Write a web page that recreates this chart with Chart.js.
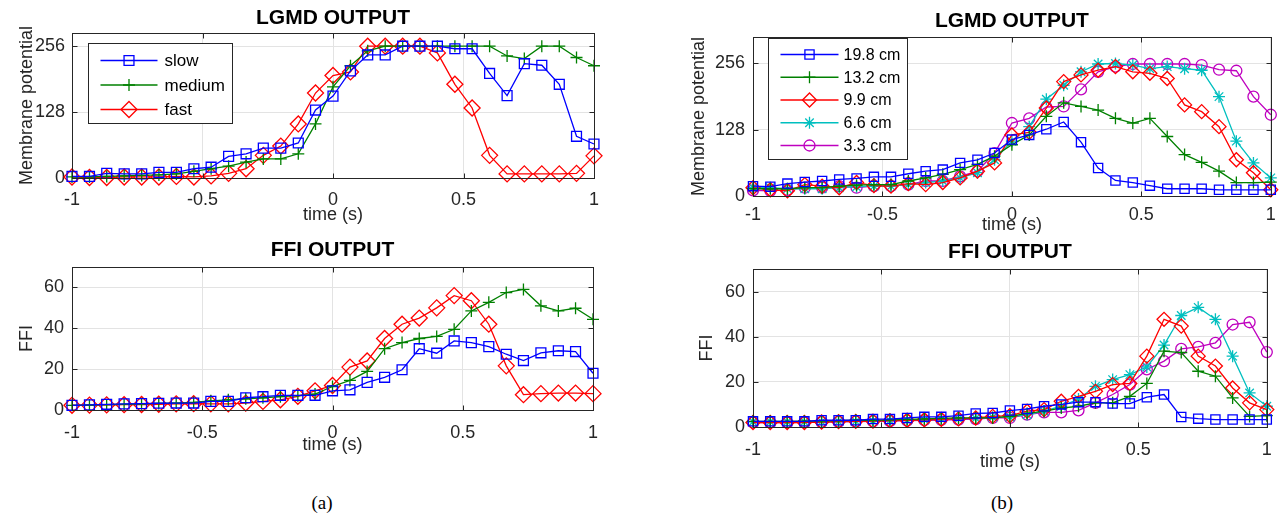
<!DOCTYPE html>
<html><head><meta charset="utf-8">
<script src="https://cdn.jsdelivr.net/npm/chart.js@4.4.1/dist/chart.umd.min.js"></script>
<style>
html,body{margin:0;padding:0;background:#fff;}
body{width:1284px;height:514px;position:relative;overflow:hidden;}
canvas{position:absolute;}
.cap{position:absolute;font-family:'Liberation Serif','Times New Roman',serif;font-size:19px;color:#000;transform:translate(-50%,-50%);white-space:nowrap;}
</style></head><body>
<canvas id="a1" width="640" height="230" style="left:0;top:0"></canvas>
<canvas id="a2" width="640" height="240" style="left:0;top:230px"></canvas>
<canvas id="b1" width="624" height="240" style="left:660px;top:0"></canvas>
<canvas id="b2" width="624" height="250" style="left:660px;top:230px"></canvas>
<div class="cap" style="left:322px;top:503px">(a)</div>
<div class="cap" style="left:1002px;top:503px">(b)</div>
<script>
// ---- data ----
const times = [-1, -0.933, -0.867, -0.8, -0.733, -0.667, -0.6, -0.533, -0.467, -0.4, -0.333, -0.267, -0.2, -0.133, -0.067, 0, 0.067, 0.133, 0.2, 0.267, 0.333, 0.4, 0.467, 0.533, 0.6, 0.667, 0.733, 0.8, 0.867, 0.933, 1];
const timeTicks = [-1, -0.5, 0, 0.5, 1];
const lgmdTicks = [0, 128, 256];
const ffiTicks = [0, 20, 40, 60];
const speedLabels = ['slow', 'medium', 'fast'];
const sizeLabels = ['19.8 cm', '13.2 cm', '9.9 cm', '6.6 cm', '3.3 cm'];

// (a) LGMD
const slowLGMD = [3, 3, 9, 8, 8, 11, 11, 18, 21, 42, 47, 58, 58, 68, 132, 159, 208, 239, 239, 256, 256, 256, 251, 251, 203, 160, 222, 219, 182, 81, 66];
const mediumLGMD = [2, 2, 3, 4, 5, 6, 8, 13, 18, 23, 31, 37, 37, 47, 105, 177, 218, 247, 256, 256, 256, 256, 256, 256, 256, 237, 232, 256, 256, 234, 218];
const fastLGMD = [2, 1, 1, 2, 2, 2, 3, 2, 4, 9, 18, 44, 62, 105, 165, 199, 206, 256, 256, 256, 256, 243, 182, 136, 44, 8, 8, 8, 8, 9, 43];
// (a) FFI
const slowFFI = [2.3, 2.5, 2.8, 3, 3.1, 3.3, 3.4, 3.4, 4.2, 4.2, 6, 6.5, 7.2, 7.2, 7.2, 9.4, 9.9, 13.5, 16, 19.7, 30, 27.8, 33.8, 33, 31, 27.3, 24.2, 28, 29, 28.6, 18];
const mediumFFI = [2.3, 2.4, 2.6, 2.8, 3, 3.2, 3.4, 3.7, 4.5, 5, 5.5, 6, 6.5, 7, 7.8, 11.5, 14.5, 18.9, 30, 33, 35, 36, 39.5, 48.5, 52.7, 57.5, 59, 51, 48.5, 49.8, 44.4];
const fastFFI = [2.3, 2.4, 2.5, 2.6, 2.7, 2.8, 3, 3.1, 3, 3, 3.4, 4.2, 5, 6.7, 9.4, 12, 21, 24, 35, 42, 45, 50, 56, 53.5, 42, 21.6, 7.5, 8, 8.3, 8.3, 8];
// (b) LGMD
const lgmd198 = [19, 18, 24, 27, 29, 32, 34, 37, 37, 43, 48, 51, 64, 70, 83, 109, 118, 129, 143, 104, 54, 30, 26, 20, 14, 14, 14, 12, 12, 12, 12];
const lgmd132 = [14, 14, 14, 16, 16, 19, 21, 22, 22, 29, 35, 42, 51, 61, 77, 99, 118, 154, 180, 173, 166, 150, 141, 150, 115, 80, 65, 48, 26, 26, 27];
const lgmd99 = [16, 12, 10, 22, 19, 16, 26, 20, 19, 24, 22, 26, 35, 48, 64, 118, 123, 170, 221, 234, 243, 250, 240, 237, 227, 176, 163, 134, 70, 45, 12];
const lgmd66 = [16, 16, 14, 14, 14, 16, 18, 19, 19, 22, 26, 29, 35, 45, 70, 106, 134, 187, 214, 240, 255, 256, 253, 246, 250, 246, 243, 192, 106, 64, 35];
const lgmd33 = [11, 10, 12, 16, 16, 19, 16, 19, 19, 22, 29, 29, 38, 48, 83, 141, 150, 172, 173, 206, 240, 250, 255, 255, 255, 255, 253, 244, 242, 192, 157];
// (b) FFI
const ffi198 = [2.5, 2.5, 2.5, 2.5, 3, 3, 3, 3.5, 3.5, 4, 4.5, 4.5, 5, 6, 6.2, 7.3, 8, 9.2, 10, 11, 11, 10.4, 10.4, 13.2, 14.4, 4.4, 3.7, 3.3, 3.3, 3.3, 3.3];
const ffi132 = [2.5, 2.5, 2.5, 2.6, 2.7, 2.8, 3, 3, 3.2, 3.4, 3.6, 3.8, 4, 4, 4, 4.7, 6, 7, 8.4, 9.2, 10.7, 10.7, 13.6, 19.3, 33.6, 33, 24.7, 22.5, 12.9, 4.7, 5];
const ffi99 = [2, 2, 2, 2, 2.2, 2.4, 2.5, 2.6, 2.8, 3, 3.2, 3.4, 3.6, 4, 4.7, 5, 7, 7.7, 11.4, 13.6, 15.8, 18.8, 19.3, 31.4, 47.7, 44.7, 31.4, 27, 17.3, 10.7, 7.7];
const ffi66 = [2.3, 2.3, 2.3, 2.3, 2.4, 2.5, 2.6, 2.7, 2.9, 3, 3.2, 3.4, 3.6, 3.9, 4.3, 4.4, 5.5, 7, 9.2, 12.4, 18, 21, 23.2, 26.6, 36.3, 49.4, 53, 47.7, 31.4, 15.1, 9.2];
const ffi33 = [2, 2, 2, 2.1, 2.2, 2.3, 2.4, 2.5, 2.6, 2.8, 3, 3.1, 3.3, 3.5, 4, 4, 5.5, 6.5, 6.5, 7.4, 10.7, 14.4, 18.8, 25.5, 29.2, 34.6, 35.5, 37.3, 45.4, 46.4, 33.2];

// ---- styles ----
const FONT = "'Liberation Sans', Arial, sans-serif";
const BLUE = '#0000FF', GREEN = '#008000', RED = '#FF0000', CYAN = '#00BFBF', MAG = '#BF00BF';

function pts(vals) { return times.map((t, i) => ({x: t, y: vals[i]})); }
function ds(label, vals, color, style, r) {
  return {label, data: pts(vals), borderColor: color, backgroundColor: 'rgba(0,0,0,0)',
    borderWidth: 1.3, pointStyle: style, pointRadius: r, pointHoverRadius: r,
    pointBorderWidth: 1.3, pointBackgroundColor: 'rgba(0,0,0,0)', pointBorderColor: color,
    tension: 0, clip: false, showLine: true};
}

const framePlugin = {
  id: 'frame',
  afterDatasetsDraw(chart) {
    const {ctx, chartArea: a, scales: {x, y}} = chart;
    ctx.save();
    ctx.strokeStyle = '#262626'; ctx.lineWidth = 1;
    const L = Math.round(a.left) + 0.5, R = Math.round(a.right) + 0.5, T = Math.round(a.top) + 0.5, B = Math.round(a.bottom) + 0.5;
    ctx.strokeRect(L, T, R - L, B - T);
    const tl = 5;
    ctx.beginPath();
    x.ticks.forEach(t => { const p = Math.round(x.getPixelForValue(t.value)) + 0.5; ctx.moveTo(p, B); ctx.lineTo(p, B - tl); ctx.moveTo(p, T); ctx.lineTo(p, T + tl); });
    y.ticks.forEach(t => { const p = Math.round(y.getPixelForValue(t.value)) + 0.5; ctx.moveTo(L, p); ctx.lineTo(L + tl, p); ctx.moveTo(R, p); ctx.lineTo(R - tl, p); });
    ctx.stroke();
    ctx.restore();
  }
};

function drawMarker(ctx, style, r, cx, cy) {
  if (Chart.helpers && Chart.helpers.drawPoint) {
    Chart.helpers.drawPoint(ctx, {pointStyle: style, radius: r, borderWidth: 1.3, rotation: 0}, cx, cy);
  }
}

const boxLegend = {
  id: 'boxLegend',
  afterDraw(chart, args, o) {
    if (!o || !o.display) return;
    const {ctx, chartArea: a} = chart;
    const L = Math.round(a.left + o.dx) + 0.5, T = Math.round(a.top + o.dy) + 0.5;
    ctx.save();
    ctx.fillStyle = '#fff'; ctx.fillRect(L, T, o.w, o.h);
    ctx.strokeStyle = '#262626'; ctx.lineWidth = 1; ctx.strokeRect(L, T, o.w, o.h);
    chart.data.datasets.forEach((d, i) => {
      const cy = T + o.first + i * o.row;
      ctx.strokeStyle = d.borderColor; ctx.lineWidth = d.borderWidth;
      ctx.beginPath(); ctx.moveTo(L + o.lineX0, cy); ctx.lineTo(L + o.lineX1, cy); ctx.stroke();
      ctx.fillStyle = 'rgba(0,0,0,0)';
      drawMarker(ctx, d.pointStyle, d.pointRadius, L + (o.lineX0 + o.lineX1) / 2, cy);
      ctx.fillStyle = '#000'; ctx.font = o.fontSize + 'px ' + FONT;
      ctx.textBaseline = 'middle'; ctx.textAlign = 'left';
      ctx.fillText(d.label, L + o.textX, cy + 1);
    });
    ctx.restore();
  }
};

function makeChart(id, p) {
  return new Chart(document.getElementById(id), {
    type: 'line',
    data: {datasets: p.datasets},
    plugins: [framePlugin, boxLegend],
    options: {
      responsive: false, animation: false, devicePixelRatio: 1,
      layout: {padding: {left: 0, right: p.padR, top: 0, bottom: 0}},
      plugins: {
        legend: {display: false}, tooltip: {enabled: false},
        title: {display: true, text: p.title, color: '#000', fullSize: false,
          font: {family: FONT, size: 21, weight: 'bold', lineHeight: 1.2},
          padding: {top: p.tPadTop, bottom: p.tPadBottom}},
        boxLegend: p.legend
      },
      scales: {
        x: {type: 'linear', min: -1, max: 1,
          afterBuildTicks: s => { s.ticks = timeTicks.map(v => ({value: v})); },
          afterFit: s => { s.height = p.xH; },
          grid: {color: '#E3E3E3', drawTicks: false, lineWidth: 1},
          border: {display: false},
          ticks: {color: '#262626', padding: p.xTickPad, maxRotation: 0, autoSkip: false,
            font: {family: FONT, size: 18, lineHeight: 1.2}, callback: v => String(v)},
          title: {display: true, text: 'time (s)', color: '#262626',
            font: {family: FONT, size: 18, lineHeight: 1.2}, padding: {top: 0, bottom: p.xTitlePad}}
        },
        y: {type: 'linear', min: 0, max: p.ymax,
          afterBuildTicks: s => { s.ticks = p.yTicks.map(v => ({value: v})); },
          afterFit: s => { s.width = p.yW; },
          grid: {color: '#E3E3E3', drawTicks: false, lineWidth: 1},
          border: {display: false},
          ticks: {color: '#262626', padding: p.yTickPad, autoSkip: false,
            font: {family: FONT, size: 18, lineHeight: 1.2}, callback: v => String(v)},
          title: {display: true, text: p.yTitle, color: '#262626',
            font: {family: FONT, size: 18, lineHeight: 1.2}, padding: {top: p.yTitlePad, bottom: 0}}
        }
      }
    }
  });
}

const aSets = (s, m, f) => [
  ds(speedLabels[0], s, BLUE, 'rect', 7),
  ds(speedLabels[1], m, GREEN, 'cross', 6),
  ds(speedLabels[2], f, RED, 'rectRot', 8)
];
const bSets = (v1, v2, v3, v4, v5) => [
  ds(sizeLabels[0], v1, BLUE, 'rect', 6.5),
  ds(sizeLabels[1], v2, GREEN, 'cross', 6),
  ds(sizeLabels[2], v3, RED, 'rectRot', 7),
  ds(sizeLabels[3], v4, CYAN, 'star', 6),
  ds(sizeLabels[4], v5, MAG, 'circle', 5.5)
];

makeChart('a1', {datasets: aSets(slowLGMD, mediumLGMD, fastLGMD), title: 'LGMD OUTPUT',
  yTitle: 'Membrane potential', ymax: 281.6, yTicks: lgmdTicks,
  padR: 46, yW: 72, xH: 52, tPadTop: 5.4, tPadBottom: 2.4, xTickPad: 11.2, xTitlePad: 4.2, yTitlePad: 16.2, yTickPad: 7,
  legend: {display: true, dx: 16, dy: 10, w: 144, h: 80, first: 17, row: 24.5, lineX0: 12, lineX1: 69, textX: 76, fontSize: 17}});

makeChart('a2', {datasets: aSets(slowFFI, mediumFFI, fastFFI), title: 'FFI OUTPUT',
  yTitle: 'FFI', ymax: 70, yTicks: ffiTicks,
  padR: 47, yW: 72, xH: 60, tPadTop: 7.4, tPadBottom: 4.4, xTickPad: 12.2, xTitlePad: 14.2, yTitlePad: 16.2, yTickPad: 8,
  legend: {display: false}});

makeChart('b1', {datasets: bSets(lgmd198, lgmd132, lgmd99, lgmd66, lgmd33), title: 'LGMD OUTPUT',
  yTitle: 'Membrane potential', ymax: 307.2, yTicks: lgmdTicks,
  padR: 10, yW: 93, xH: 44, tPadTop: 8.4, tPadBottom: 3.4, xTickPad: 8.2, xTitlePad: 4.2, yTitlePad: 28.2, yTickPad: 8,
  legend: {display: true, dx: 15, dy: 1, w: 139, h: 121, first: 16, row: 22.75, lineX0: 12, lineX1: 70, textX: 90 - 15 + 0, fontSize: 16}});

makeChart('b2', {datasets: bSets(ffi198, ffi132, ffi99, ffi66, ffi33), title: 'FFI OUTPUT',
  yTitle: 'FFI', ymax: 70, yTicks: ffiTicks,
  padR: 9, yW: 93, xH: 53, tPadTop: 9.4, tPadBottom: 4.4, xTickPad: 12.2, xTitlePad: 7.2, yTitlePad: 36.2, yTickPad: 8,
  legend: {display: false}});
</script>
</body></html>
